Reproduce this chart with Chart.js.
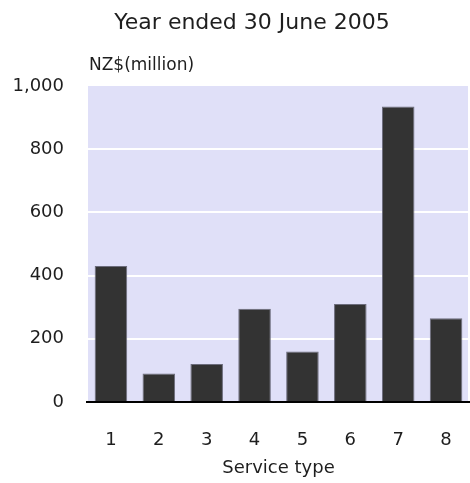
<!DOCTYPE html>
<html>
<head>
<meta charset="utf-8">
<script src="https://cdn.jsdelivr.net/npm/chart.js@4.4.0/dist/chart.umd.min.js"></script>
<style>
    html, body { margin: 0; padding: 0; background: #fff; }
    canvas { display: block; }
</style>
</head>
<body>
<canvas id="serviceChart" width="470" height="483"></canvas>
<script>
var categories = ['1', '2', '3', '4', '5', '6', '7', '8'];
var values = [430, 90, 120, 295, 160, 310, 935, 265];
var yTicks = [0, 200, 400, 600, 800, 1000];
var chartTitle = 'Year ended 30 June 2005';
var unitLabel = 'NZ$(million)';
var xTitle = 'Service type';

var FONT = "'DejaVu Sans', Verdana, sans-serif";
var TEXT = '#1e1e1e';

// lavender plot background plus the two text lines above the plot
var decorations = {
    id: 'decorations',
    beforeDraw: function(chart) {
        var ctx = chart.ctx;
        var area = chart.chartArea;
        ctx.save();
        ctx.fillStyle = '#e0e0f8';
        ctx.fillRect(area.left + 1, area.top, area.right - area.left - 3, area.bottom - area.top);

        ctx.fillStyle = TEXT;
        ctx.textBaseline = 'alphabetic';
        ctx.font = '22px ' + FONT;
        ctx.textAlign = 'center';
        ctx.fillText(chartTitle, 252, 29);

        ctx.font = '17px ' + FONT;
        ctx.textAlign = 'left';
        ctx.fillText(unitLabel, 89, 70);
        ctx.restore();
    }
};

new Chart(document.getElementById('serviceChart'), {
    type: 'bar',
    data: {
        labels: categories,
        datasets: [{
            data: values,
            backgroundColor: '#333333',
            borderColor: '#6c6c7c',
            borderWidth: 1,
            barPercentage: 0.68,
            categoryPercentage: 1
        }]
    },
    options: {
        responsive: false,
        animation: false,
        layout: { padding: { top: 86, left: 0, right: 0, bottom: 0 } },
        plugins: {
            legend: { display: false },
            tooltip: { enabled: false }
        },
        scales: {
            x: {
                z: 1,
                grid: { display: false, drawTicks: false },
                border: { display: true, color: '#000', width: 2 },
                ticks: {
                    color: TEXT,
                    padding: 28,
                    font: { family: FONT, size: 18 }
                },
                title: {
                    display: true,
                    text: xTitle,
                    color: TEXT,
                    padding: { top: 0, bottom: 4 },
                    font: { family: FONT, size: 18 }
                },
                afterFit: function(s) {
                    s.height = 81;
                    s.paddingLeft = 0;
                    s.paddingRight = 0;
                }
            },
            y: {
                min: 0,
                max: 1000,
                afterBuildTicks: function(s) {
                    s.ticks = yTicks.map(function(v) { return { value: v }; });
                },
                grid: {
                    drawTicks: false,
                    lineWidth: 2,
                    color: function(c) {
                        var v = c.tick ? c.tick.value : 0;
                        return (v === 0 || v === 1000) ? 'rgba(0,0,0,0)' : '#ffffff';
                    }
                },
                border: { display: false },
                ticks: {
                    color: TEXT,
                    padding: 23,
                    font: { family: FONT, size: 18 },
                    callback: function(v) { return v.toLocaleString('en-US'); }
                },
                afterFit: function(s) { s.width = 87; }
            }
        }
    },
    plugins: [decorations]
});
</script>
</body>
</html>
